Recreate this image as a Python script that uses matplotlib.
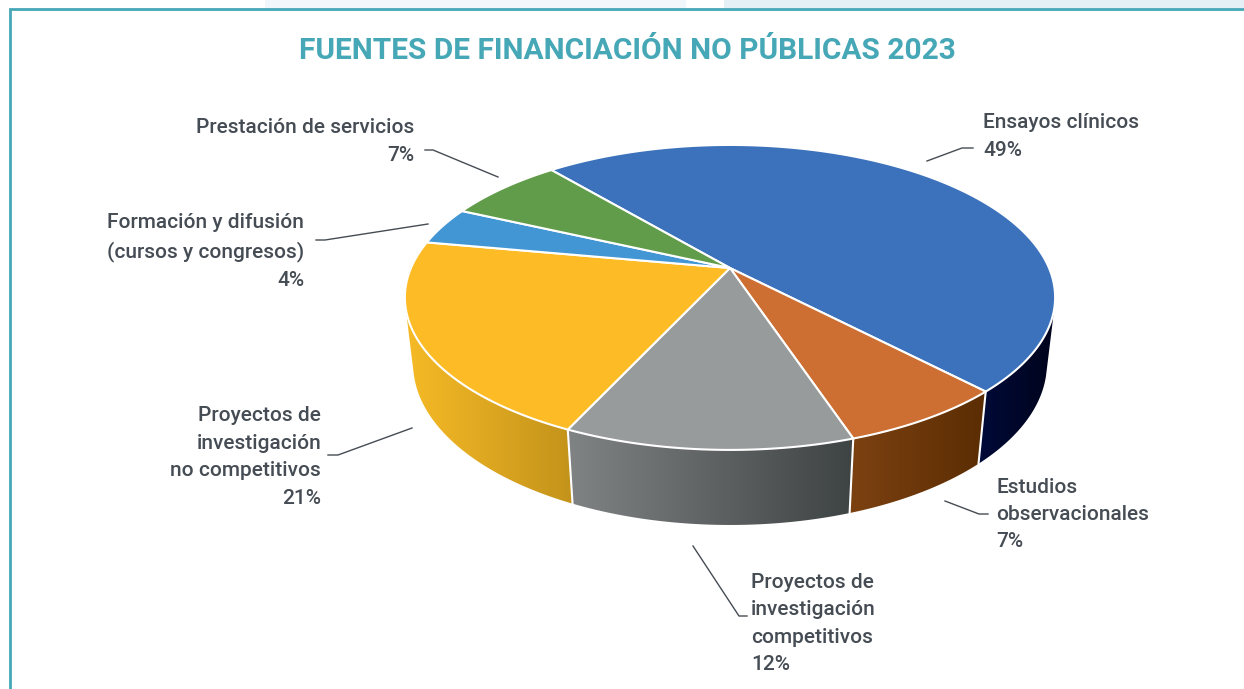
import numpy as np
import matplotlib
matplotlib.use('Agg')
import matplotlib.pyplot as plt
from matplotlib.colors import to_rgb
from matplotlib.patches import Polygon, Rectangle

# Datos
categorias = ['Ensayos clínicos', 'Estudios\nobservacionales', 'Proyectos de\ninvestigación\ncompetitivos',
              'Proyectos de\ninvestigación\nno competitivos', 'Formación y difusión\n(cursos y congresos)',
              'Prestación de servicios']
valores = [49, 7, 12, 21, 4, 7]
colores = ['#3c72bb', '#cd6f32', '#989b9b', '#fdbc26', '#4296d4', '#609c49']
# degradado de la pared lateral (izquierda, derecha)
lados = [('#000a38', '#00041c'), ('#7c4111', '#5b2d03'), ('#808384', '#3e4344'),
         ('#f6ba26', '#c3931a'), None, None]

# posicion de las etiquetas: x, y centro, alineacion
pos_etiquetas = [(983, 136.5, 'left'), (996, 514.5, 'left'), (751, 623.5, 'left'),
                 (321, 457, 'right'), (304, 251.5, 'right'), (414, 141.5, 'right')]
lineas_guia = [[(973, 148), (962, 148), (927, 161)],
               [(988, 514), (979, 514), (945, 501)],
               [(747, 616), (739, 616), (693, 546)],
               [(328, 455), (338, 455), (412, 428)],
               [(316, 240), (325, 240), (428, 224)],
               [(425, 150), (433, 150), (498, 177)]]

TEAL = '#46a7b7'
TEXTO = '#454c54'

# Proyeccion en perspectiva del disco
CX, CY = 730, 268
A, B, K = 319, 146.8, 0.193
C, M = 67, 0.025
INICIO = 130


def proyectar(ang, z=0):
    t = np.radians(ang)
    w = 1 + K * np.sin(t) + M * z
    return CX + A * np.cos(t) / w, CY + (-B * np.sin(t) + C * z) / w


fig = plt.figure(figsize=(12.44, 6.89), dpi=100)
ax = fig.add_axes([0, 0, 1, 1])

# fondo y marco
ax.add_patch(Rectangle((265, 0), 421, 7.5, fc='#f1f7fa', ec='none'))
ax.add_patch(Rectangle((724, 0), 520, 7.5, fc='#e4f0f6', ec='none'))
ax.plot([9.5, 9.5, 1244], [689, 8.5, 8.5], color=TEAL, lw=2, solid_joinstyle='miter')

ax.text(627, 51, 'FUENTES DE FINANCIACIÓN NO PÚBLICAS 2023', color=TEAL, fontsize=21.5,
        fontweight='bold', family='Roboto', ha='center', va='center')

# angulos de cada sector (sentido horario)
fin = INICIO - np.cumsum(valores) * 360 / sum(valores)
ini = np.r_[INICIO, fin[:-1]]

# paredes laterales (solo la parte delantera visible)
for a0, a1, lado in zip(ini, fin, lados):
    if lado is None:
        continue
    angs = np.linspace(a0, a1, 400)
    angs = angs[np.sin(np.radians(angs)) < -0.25]
    xt, yt = proyectar(angs)
    xb, yb = proyectar(angs, 1)
    px = np.r_[xt, xb[::-1]]
    py = np.r_[yt, yb[::-1]]
    clip = Polygon(np.c_[px, py], closed=True, transform=ax.transData, fc='none', ec='none')
    ax.add_patch(clip)
    grad = np.linspace(to_rgb(lado[0]), to_rgb(lado[1]), 64)[None, :, :]
    im = ax.imshow(grad, extent=(px.min(), px.max(), py.max(), py.min()), aspect='auto',
                   interpolation='bilinear', zorder=2)
    im.set_clip_path(clip)

# separadores blancos entre paredes
for a in fin[:3]:
    x, y = proyectar(np.array([a, a]), np.array([0, 1]))
    ax.plot(x, y, color='white', lw=1.5, zorder=3)

# cara superior
for a0, a1, col in zip(ini, fin, colores):
    angs = np.linspace(a0, a1, 200)
    x, y = proyectar(angs)
    ax.fill(np.r_[CX, x], np.r_[CY, y], fc=col, ec='white', lw=1.5, joinstyle='round', zorder=4)

# etiquetas
for cat, val, (x, y, ha), guia in zip(categorias, valores, pos_etiquetas, lineas_guia):
    ax.text(x, y, f'{cat}\n{val}%', ha=ha, va='center', multialignment=ha, color=TEXTO,
            fontsize=15, family='Roboto', fontweight='medium', linespacing=1.56, zorder=5)
    g = np.array(guia)
    ax.plot(g[:, 0], g[:, 1], color=TEXTO, lw=1, zorder=5)

ax.set_xlim(0, 1244)
ax.set_ylim(689, 0)
ax.axis('off')
fig.savefig('out.png', dpi=100)
